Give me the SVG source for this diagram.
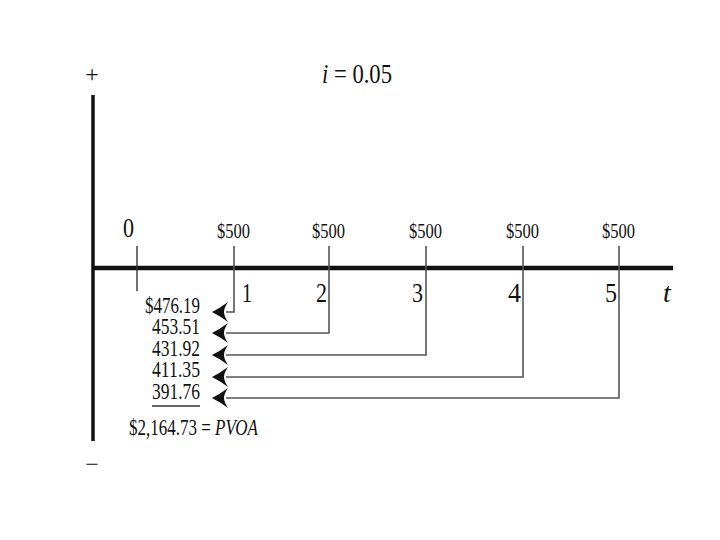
<svg xmlns="http://www.w3.org/2000/svg" width="720" height="540" viewBox="0 0 720 540">
<style>
text{font-family:"Liberation Serif","Times New Roman",serif;fill:#111}
.axis{stroke:#111;fill:none}
.tick{stroke:#333;stroke-width:1.4;fill:none}
.conn{stroke:#555;stroke-width:1.6;fill:none}
.lbl{font-size:20px}
.num{font-size:28px}
.val{font-size:23.5px;text-anchor:end}
</style>
<defs>
<path id="ah" d="M0,0 Q8,-4 16,-10 Q12,-4 12,0 Q12,4 16,10 Q8,4 0,0 Z" fill="#111"/>
</defs>
<rect width="720" height="540" fill="#fff"/>
<g id="axes">
<line class="axis" x1="93" y1="95" x2="93" y2="441" stroke-width="3.5"/>
<line class="axis" x1="92" y1="268" x2="673" y2="268" stroke-width="4.5"/>
<text x="92" y="82" font-size="24" text-anchor="middle" fill="#333">+</text>
<text x="92" y="472" font-size="24" text-anchor="middle" fill="#333">−</text>
<text x="322" y="83" font-size="27" textLength="70" lengthAdjust="spacingAndGlyphs"><tspan font-style="italic">i</tspan> = 0.05</text>
<text x="663" y="302" font-size="28" font-style="italic">t</text>
</g>
<g id="t0">
<line class="tick" x1="137" y1="246" x2="137" y2="291"/>
<text x="123" y="237" font-size="27" textLength="11" lengthAdjust="spacingAndGlyphs">0</text>
</g>
<g id="t1">
<text class="lbl" x="217" y="238" textLength="33" lengthAdjust="spacingAndGlyphs">$500</text>
<text class="num" x="242" y="302" textLength="10" lengthAdjust="spacingAndGlyphs">1</text>
</g>
<g id="t2">
<text class="lbl" x="312" y="238" textLength="33" lengthAdjust="spacingAndGlyphs">$500</text>
<text class="num" x="316" y="302" textLength="11" lengthAdjust="spacingAndGlyphs">2</text>
</g>
<g id="t3">
<text class="lbl" x="409" y="238" textLength="33" lengthAdjust="spacingAndGlyphs">$500</text>
<text class="num" x="412" y="302" textLength="11" lengthAdjust="spacingAndGlyphs">3</text>
</g>
<g id="t4">
<text class="lbl" x="506" y="238" textLength="33" lengthAdjust="spacingAndGlyphs">$500</text>
<text class="num" x="508" y="302" textLength="13" lengthAdjust="spacingAndGlyphs">4</text>
</g>
<g id="t5">
<text class="lbl" x="602" y="238" textLength="33" lengthAdjust="spacingAndGlyphs">$500</text>
<text class="num" x="605" y="302" textLength="12" lengthAdjust="spacingAndGlyphs">5</text>
</g>
<g id="connectors">
<path class="conn" d="M234,246 V312 H226"/>
<path class="conn" d="M329,246 V333 H226"/>
<path class="conn" d="M426,246 V355 H226"/>
<path class="conn" d="M523,246 V377 H226"/>
<path class="conn" d="M619,246 V398 H226"/>
<use href="#ah" x="212" y="312"/>
<use href="#ah" x="212" y="333"/>
<use href="#ah" x="212" y="355"/>
<use href="#ah" x="212" y="377"/>
<use href="#ah" x="212" y="398"/>
</g>
<g id="values">
<text class="val" x="200" y="313" textLength="55" lengthAdjust="spacingAndGlyphs">$476.19</text>
<text class="val" x="200" y="334" textLength="48" lengthAdjust="spacingAndGlyphs">453.51</text>
<text class="val" x="200" y="356" textLength="48" lengthAdjust="spacingAndGlyphs">431.92</text>
<text class="val" x="200" y="377" textLength="48" lengthAdjust="spacingAndGlyphs">411.35</text>
<text class="val" x="200" y="399" textLength="48" lengthAdjust="spacingAndGlyphs">391.76</text>
<line x1="152" y1="406" x2="200" y2="406" stroke="#333" stroke-width="1.3"/>
<text x="129" y="435" font-size="23" textLength="129" lengthAdjust="spacingAndGlyphs">$2,164.73 = <tspan font-style="italic">PVOA</tspan></text>
</g>
</svg>
